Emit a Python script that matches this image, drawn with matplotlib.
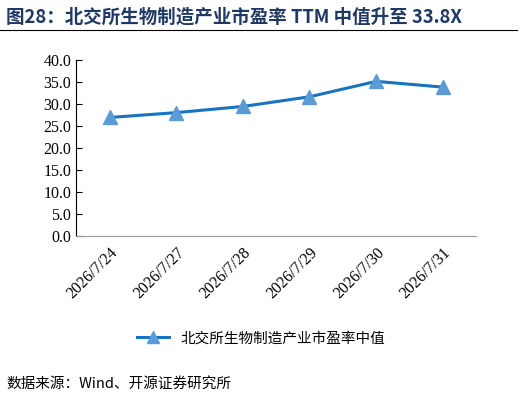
import matplotlib
matplotlib.use("Agg")
import matplotlib.pyplot as plt
from matplotlib.lines import Line2D

dates = ["2026/7/24", "2026/7/27", "2026/7/28", "2026/7/29", "2026/7/30", "2026/7/31"]
values = [26.9, 28.0, 29.4, 31.6, 35.1, 33.8]
yticks = [0, 5, 10, 15, 20, 25, 30, 35, 40]

cjk = ["Noto Sans CJK SC", "DejaVu Sans"]
serif = ["Liberation Serif", "Noto Sans CJK SC"]

fig = plt.figure(figsize=(5.22, 4.04), dpi=100)
fig.text(0.012, 0.958, "图28：北交所生物制造产业市盈率 TTM 中值升至 33.8X", family=cjk,
         fontsize=13.3, fontweight="bold", color="#1F3864", va="center")
fig.add_artist(Line2D([0.0, 0.99], [0.925, 0.925], color="black", lw=0.8))

ax = fig.add_axes([0.146, 0.416, 0.766, 0.436])
x = range(len(dates))
ax.plot(x, values, color="#1874C1", lw=2.2, marker="^", markersize=10,
        markerfacecolor="#5B9BD5", markeredgecolor="#5B9BD5", label="北交所生物制造产业市盈率中值")
ax.set_xlim(-0.5, len(dates) - 0.5)
ax.set_ylim(0, 40)
ax.set_yticks(yticks)
ax.set_yticklabels([f"{v:.1f}" for v in yticks], family=serif, fontsize=11.5)
ax.set_xticks(list(x))
ax.set_xticklabels(dates, rotation=45, ha="right", rotation_mode="anchor", family=serif, fontsize=11.5)
for s in ["top", "right"]:
    ax.spines[s].set_visible(False)
ax.spines["left"].set_color("black")
ax.spines["bottom"].set_color("#999999")
ax.tick_params(axis="y", direction="in", length=4)
ax.tick_params(axis="x", length=0, pad=6)

fig.legend(loc="center", bbox_to_anchor=(0.5, 0.163), frameon=False, prop={"family": cjk, "size": 10.5},
           handlelength=2.2, markerscale=0.8)
fig.text(0.012, 0.05, "数据来源：Wind、开源证券研究所", family=cjk, fontsize=10.5, va="center")
fig.savefig("out.png", dpi=100)
